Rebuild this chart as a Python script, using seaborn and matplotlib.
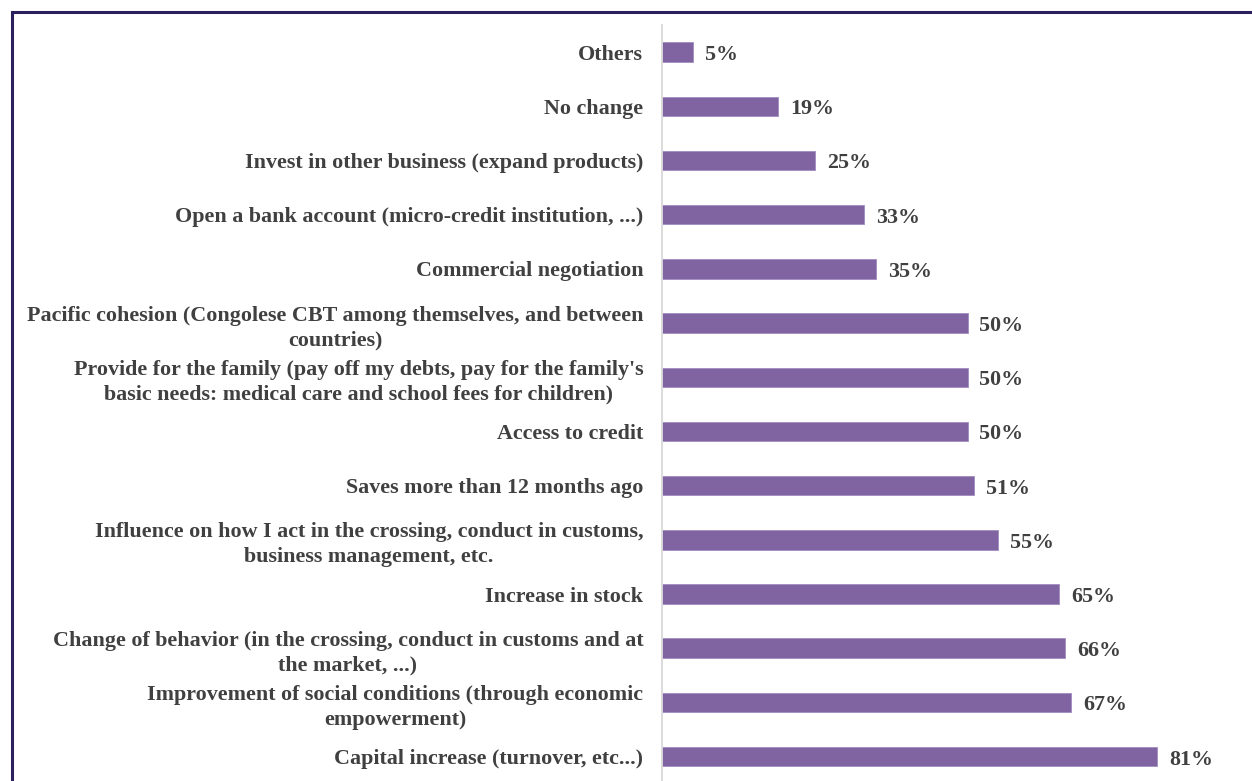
import matplotlib
matplotlib.use("Agg")
import matplotlib.pyplot as plt
from matplotlib.lines import Line2D
import seaborn as sns
import pandas as pd

categories = [
    "Others",
    "No change",
    "Invest in other business (expand products)",
    "Open a bank account (micro-credit institution, ...)",
    "Commercial negotiation",
    "Pacific cohesion (Congolese CBT among themselves, and between\ncountries)",
    "Provide for the family (pay off my debts, pay for the family's\nbasic needs: medical care and school fees for children)",
    "Access to credit",
    "Saves more than 12 months ago",
    "Influence on how I act in the crossing, conduct in customs,\nbusiness management, etc.",
    "Increase in stock",
    "Change of behavior (in the crossing, conduct in customs and at\nthe market, ...)",
    "Improvement of social conditions (through economic\nempowerment)",
    "Capital increase (turnover, etc...)",
]
values = [5, 19, 25, 33, 35, 50, 50, 50, 51, 55, 65, 66, 67, 81]

df = pd.DataFrame({"category": categories, "share": values})

sns.set_theme(style="white")
plt.rcParams["font.family"] = ["Liberation Serif", "DejaVu Serif"]

W, H = 1252, 781
fig = plt.figure(figsize=(W / 100, H / 100), dpi=100)
fig.patch.set_facecolor("white")

ax_left, ax_right = 662, 1240
ax_top, ax_bottom = 25, 781
ax = fig.add_axes([ax_left / W, 1 - ax_bottom / H,
                   (ax_right - ax_left) / W, (ax_bottom - ax_top) / H])

bar_color = "#8064A2"
text_color = "#404040"
fsize = 15.8

sns.barplot(data=df, y="category", x="share", orient="h", color=bar_color,
            saturation=1, width=0.36, ax=ax, edgecolor="#a08cc0", linewidth=0.6)

ax.set_xlim(0, (ax_right - ax_left) / 6.11)
ax.set_ylim(13.45, -0.5)
ax.set_xlabel("")
ax.set_ylabel("")
ax.set_xticks([])

for s in ["top", "right", "bottom"]:
    ax.spines[s].set_visible(False)
ax.spines["left"].set_color("#d9d9d9")
ax.spines["left"].set_linewidth(1.3)

ax.tick_params(axis="y", length=0, pad=13.5)
for lbl in ax.get_yticklabels():
    lbl.set_fontsize(fsize)
    lbl.set_fontweight("bold")
    lbl.set_color(text_color)
    lbl.set_multialignment("center")
    lbl.set_linespacing(1.32)

for i, v in enumerate(values):
    ax.annotate(f"{v}%", xy=(v, i), xytext=(12, -3), textcoords="offset pixels",
                ha="left", va="center", fontsize=fsize, fontweight="bold",
                color=text_color)

# frame lines along the top and left edges of the panel
border_color = "#2B1F5C"
fig.add_artist(Line2D([12 / W, 12 / W], [0, 1 - 12 / H], transform=fig.transFigure,
                      color=border_color, linewidth=2.2, solid_capstyle="projecting"))
fig.add_artist(Line2D([12 / W, 1], [1 - 12 / H, 1 - 12 / H], transform=fig.transFigure,
                      color=border_color, linewidth=2.2, solid_capstyle="projecting"))

fig.savefig("out.png", dpi=100, facecolor="white")
